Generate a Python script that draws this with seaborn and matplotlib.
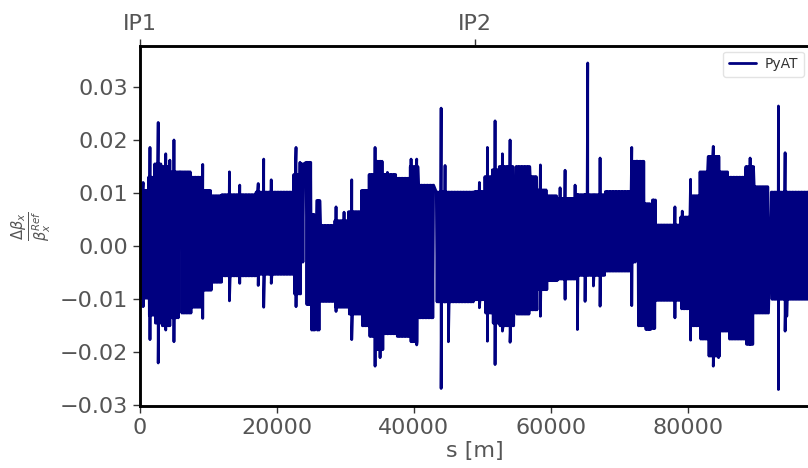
import numpy as np
import pandas as pd
import matplotlib
matplotlib.use("Agg")
import matplotlib.pyplot as plt
import seaborn as sns

# ---- data (envelope of the dense beta-beat signal) ----
circumference = 97756.0
ip_positions = [0.0, 48878.0]
ip_labels = ["IP1", "IP2"]

# segment start positions [m]; each segment ends where the next one starts
seg_start = [0, 1300, 2200, 3200, 4200, 5750, 6050, 7500, 9000, 10500, 12000, 17000,
             22500, 23500, 24050, 24300, 25000, 25600, 25850, 26400, 28500, 30500,
             32400, 33500, 34500, 35600, 37500, 39500, 40700, 43000, 43300,
             48900, 50400, 51500, 52500, 54650, 54950, 57000, 58000, 59500, 61000,
             64000, 68000, 72000, 72450, 72700, 73800, 74600, 74850, 75300, 79000,
             80500, 81800, 83000, 84700, 86000, 88500, 89700, 91900, 92200]
# upper / lower envelope in each segment (nan = smooth gap in the signal)
seg_hi = [0.0105, 0.013, 0.0155, 0.015, 0.014, np.nan, 0.014, 0.013, 0.0105, 0.0095, 0.0097, 0.0102,
          0.0135, 0.0155, np.nan, 0.0158, 0.006, np.nan, 0.0086, 0.0039, 0.0048, 0.0065,
          0.0105, 0.0135, 0.016, 0.0135, 0.0128, 0.0150, 0.0115, np.nan, 0.0102,
          0.0103, 0.0131, 0.0144, 0.0150, np.nan, 0.0150, 0.0131, 0.0106, 0.0095, 0.0090,
          0.0097, 0.0103, 0.0160, np.nan, 0.0160, 0.0080, np.nan, 0.0087, 0.0040, 0.0055,
          0.0095, 0.0140, 0.0169, 0.0140, 0.0130, 0.0150, 0.0112, np.nan, 0.0102]
seg_lo = [-0.0098, -0.013, -0.0145, -0.015, -0.0135, np.nan, -0.0126, -0.0115, -0.0083, -0.0068, -0.0056, -0.0053,
          -0.009, -0.003, np.nan, -0.011, -0.0158, np.nan, -0.0158, -0.0104, -0.0115, -0.0128,
          -0.0150, -0.017, -0.0195, -0.0165, -0.0170, -0.0180, -0.0135, np.nan, -0.0105,
          -0.0101, -0.0126, -0.0145, -0.0150, np.nan, -0.0128, -0.0120, -0.0082, -0.0065, -0.0062,
          -0.0055, -0.0047, -0.003, np.nan, -0.0150, -0.0157, np.nan, -0.0155, -0.0102, -0.0118,
          -0.0150, -0.0175, -0.0207, -0.0160, -0.0175, -0.0185, -0.0126, np.nan, -0.0100]

# isolated spikes: position, max, min
spike_s = [500, 1500, 2700, 3800, 4400, 5000, 9200, 13100, 14600, 17300, 18100, 19200,
           22820, 23400, 25935, 28660, 29830, 30950, 34357, 35087, 36158, 39613, 40437,
           44000, 44574, 45060,
           49586, 50755, 51874, 52945, 54065, 58494, 61365, 62094, 63554, 63894, 65013,
           65400, 66230, 67203, 71827, 74990, 78131, 79202, 80419, 83728, 84500, 89104,
           93240, 94213, 94456]
spike_hi = [0.012, 0.0186, 0.0233, 0.0174, 0.0162, 0.020, 0.0154, 0.014, 0.0115, 0.0118, 0.0164, 0.0125,
            0.0186, 0.0158, 0.0086, 0.0074, 0.0064, 0.0125, 0.0186, 0.015, 0.0139, 0.0164, 0.0164,
            0.026, 0.0152, 0.0102,
            0.012, 0.0186, 0.0236, 0.0174, 0.020, 0.0153, 0.0110, 0.0143, 0.0115, 0.0097, 0.0097,
            0.0345, 0.0097, 0.0166, 0.0186, 0.0087, 0.0074, 0.0066, 0.0126, 0.0188, 0.0169, 0.0166,
            0.0264, 0.0176, 0.0102]
spike_lo = [-0.0114, -0.0176, -0.022, -0.0158, -0.015, -0.018, -0.0136, -0.0103, -0.007, -0.0074, -0.0115, -0.007,
            -0.0114, -0.006, -0.0158, -0.0123, -0.0104, -0.0176, -0.0226, -0.021, -0.0165, -0.017, -0.0186,
            -0.0268, -0.0105, -0.018,
            -0.0116, -0.0179, -0.0223, -0.016, -0.0181, -0.0132, -0.0055, -0.0100, -0.0055, -0.0157, -0.0104,
            -0.0055, -0.0075, -0.0113, -0.0112, -0.0155, -0.0135, -0.0102, -0.0177, -0.0226, -0.021, -0.0185,
            -0.027, -0.016, -0.0132]

# ---- build the dense oscillating trace from the envelope ----
step = 110.0
pts_s, pts_v = [], []
seg_end = seg_start[1:] + [circumference]
for a, b, hi, lo in zip(seg_start, seg_end, seg_hi, seg_lo):
    if np.isnan(hi):
        continue
    xs = np.arange(a, b, step)
    for k, x in enumerate(xs):
        pts_s.append(float(x))
        pts_v.append(hi if k % 2 == 0 else lo)
for s, hi, lo in zip(spike_s, spike_hi, spike_lo):
    pts_s += [s - 1e-3, float(s)]
    pts_v += [hi, lo]
order = np.argsort(np.array(pts_s), kind="stable")
df = pd.DataFrame({"s": np.array(pts_s)[order], "dbeta": np.array(pts_v)[order]})

# ---- plot ----
sns.set_style("ticks")
plt.rcParams["font.family"] = ["DejaVu Sans"]
grey = "#555555"

fig = plt.figure(figsize=(8.08, 4.68), dpi=100)
ax = fig.add_axes([0.1729, 0.1325, 0.8288, 0.7692])
sns.lineplot(data=df, x="s", y="dbeta", ax=ax, color="#000080", lw=2,
             estimator=None, sort=False, label="PyAT")

ax.set_xlim(0, circumference)
ax.set_ylim(-0.0301, 0.0377)
ax.set_yticks([-0.03, -0.02, -0.01, 0.0, 0.01, 0.02, 0.03])
ax.set_xticks([0, 20000, 40000, 60000, 80000])
ax.tick_params(axis="both", labelsize=16, labelcolor=grey, color="#333333",
               length=5, width=1, direction="out")
ax.set_xlabel("s [m]", fontsize=16, color=grey, labelpad=2)
ax.set_ylabel(r"$\frac{\Delta\beta_x}{\beta_x^{Ref}}$", fontsize=15, color=grey, labelpad=4)
for sp in ax.spines.values():
    sp.set_color("black")
    sp.set_linewidth(1.8)

ax2 = ax.twiny()
ax2.set_xlim(ax.get_xlim())
ax2.set_xticks(ip_positions)
ax2.set_xticklabels(ip_labels)
ax2.tick_params(axis="x", labelsize=16, labelcolor=grey, color="#333333", length=5, width=1, pad=4)
for sp in ax2.spines.values():
    sp.set_linewidth(1.8)
    sp.set_color("black")

leg = ax.legend(loc="upper right", fontsize=10, frameon=True, fancybox=True,
                handlelength=2.0, handletextpad=0.6, borderaxespad=0.4)
leg.get_frame().set_edgecolor("#dddddd")
for t in leg.get_texts():
    t.set_color("#333333")

fig.savefig("out.png", dpi=100)
